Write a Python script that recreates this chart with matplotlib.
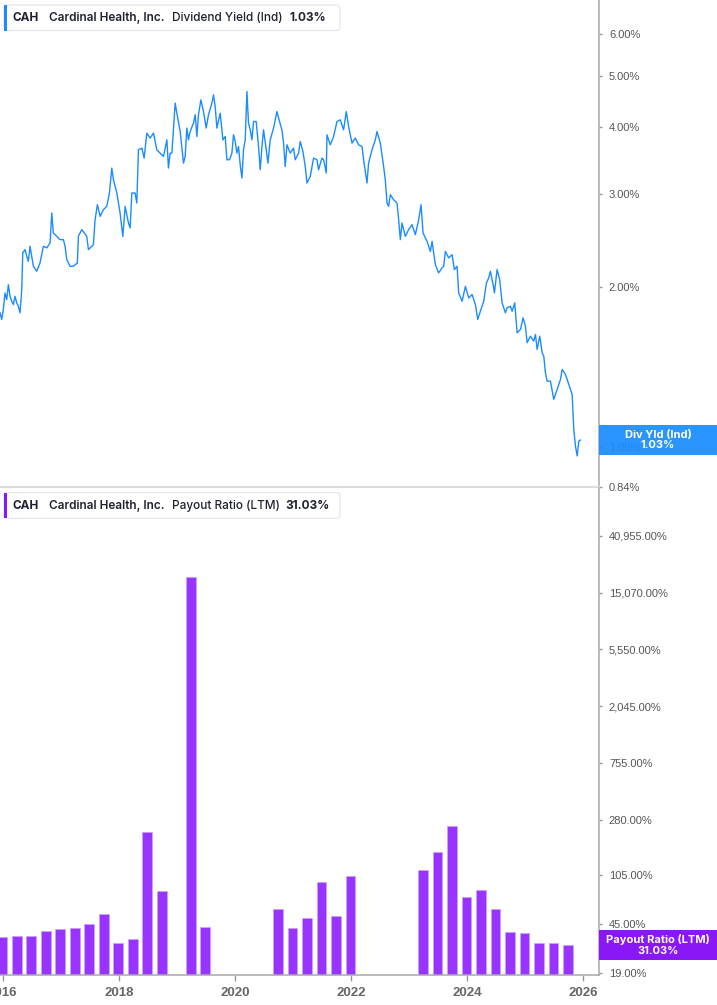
import numpy as np
import matplotlib
matplotlib.use("Agg")
import matplotlib.pyplot as plt
from matplotlib.patches import FancyBboxPatch, Rectangle
from matplotlib.transforms import IdentityTransform
from matplotlib.ticker import NullLocator, FixedLocator, FixedFormatter

# ---------------- data ----------------
div_dates = [
    2015.953, 2015.983, 2016.010, 2016.040, 2016.069, 2016.097, 2016.126, 2016.155, 2016.183, 2016.212,
    2016.241, 2016.269, 2016.298, 2016.328, 2016.345, 2016.384, 2016.414, 2016.441, 2016.471, 2016.500,
    2016.528, 2016.586, 2016.643, 2016.700, 2016.759, 2016.816, 2016.845, 2016.872, 2016.931, 2016.988,
    2017.045, 2017.074, 2017.103, 2017.160, 2017.217, 2017.286, 2017.303, 2017.362, 2017.448, 2017.476,
    2017.562, 2017.591, 2017.631, 2017.678, 2017.734, 2017.793, 2017.838, 2017.879, 2017.907, 2017.966,
    2018.022, 2018.069, 2018.109, 2018.166, 2018.195, 2018.224, 2018.281, 2018.310, 2018.338, 2018.397,
    2018.436, 2018.483, 2018.540, 2018.597, 2018.655, 2018.712, 2018.769, 2018.828, 2018.855, 2018.884,
    2018.914, 2018.941, 2018.971, 2019.000, 2019.057, 2019.114, 2019.143, 2019.172, 2019.200, 2019.229,
    2019.286, 2019.316, 2019.345, 2019.372, 2019.414, 2019.459, 2019.505, 2019.545, 2019.603, 2019.631,
    2019.660, 2019.690, 2019.747, 2019.793, 2019.833, 2019.862, 2019.907, 2019.948, 2019.976, 2020.005,
    2020.034, 2020.062, 2020.091, 2020.121, 2020.148, 2020.178, 2020.207, 2020.234, 2020.264, 2020.293,
    2020.321, 2020.367, 2020.407, 2020.436, 2020.466, 2020.493, 2020.540, 2020.569, 2020.609, 2020.666,
    2020.724, 2020.769, 2020.810, 2020.838, 2020.867, 2020.897, 2020.953, 2021.010, 2021.040, 2021.097,
    2021.126, 2021.172, 2021.212, 2021.241, 2021.298, 2021.355, 2021.414, 2021.441, 2021.500, 2021.528,
    2021.574, 2021.586, 2021.643, 2021.700, 2021.759, 2021.816, 2021.872, 2021.919, 2021.959, 2022.017,
    2022.074, 2022.131, 2022.190, 2022.217, 2022.276, 2022.303, 2022.362, 2022.419, 2022.448, 2022.505,
    2022.562, 2022.591, 2022.621, 2022.648, 2022.678, 2022.734, 2022.793, 2022.821, 2022.850, 2022.879,
    2022.936, 2022.993, 2023.052, 2023.109, 2023.166, 2023.207, 2023.241, 2023.310, 2023.367, 2023.397,
    2023.453, 2023.510, 2023.569, 2023.597, 2023.626, 2023.683, 2023.741, 2023.781, 2023.828, 2023.855,
    2023.914, 2023.971, 2024.028, 2024.086, 2024.143, 2024.183, 2024.229, 2024.286, 2024.333, 2024.372,
    2024.402, 2024.448, 2024.471, 2024.517, 2024.562, 2024.603, 2024.660, 2024.690, 2024.747, 2024.776,
    2024.821, 2024.862, 2024.919, 2024.966, 2025.005, 2025.034, 2025.091, 2025.148, 2025.178, 2025.207,
    2025.252, 2025.293, 2025.321, 2025.350, 2025.379, 2025.436, 2025.493, 2025.552, 2025.609, 2025.638,
    2025.695, 2025.752, 2025.810, 2025.838, 2025.867, 2025.897, 2025.924, 2025.953,
]
div_yield = [
    1.789, 1.738, 1.814, 1.950, 1.894, 2.021, 1.921, 1.881, 1.854, 1.921,
    1.868, 1.840, 1.789, 1.978, 2.320, 2.353, 2.286, 2.236, 2.387, 2.286,
    2.189, 2.142, 2.221, 2.387, 2.371, 2.423, 2.758, 2.529, 2.492, 2.457,
    2.457, 2.387, 2.254, 2.189, 2.189, 2.221, 2.492, 2.566, 2.492, 2.353,
    2.404, 2.679, 2.859, 2.718, 2.798, 2.839, 3.008, 3.352, 3.186, 3.008,
    2.758, 2.492, 2.839, 2.641, 2.585, 3.008, 3.008, 2.880, 3.628, 3.655,
    3.500, 3.901, 3.817, 3.901, 3.628, 3.576, 3.524, 3.789, 3.352, 3.576,
    3.576, 3.957, 4.443, 4.254, 3.928, 3.425, 3.524, 3.987, 3.789, 3.928,
    4.074, 4.223, 3.844, 4.223, 4.507, 4.283, 3.987, 4.223, 4.443, 4.605,
    4.377, 3.987, 4.254, 3.789, 3.844, 3.475, 3.475, 3.576, 3.873, 3.762,
    3.576, 3.681, 3.400, 3.210, 3.628, 3.789, 4.672, 4.074, 3.957, 3.789,
    4.102, 4.102, 3.681, 3.327, 3.681, 3.957, 3.628, 3.425, 3.789, 3.987,
    4.283, 4.102, 3.957, 3.735, 3.375, 3.708, 3.576, 3.655, 3.475, 3.576,
    3.762, 3.601, 3.375, 3.141, 3.232, 3.500, 3.475, 3.327, 3.500, 3.475,
    3.281, 3.873, 3.708, 3.844, 4.102, 4.132, 3.957, 4.283, 4.014, 3.735,
    3.817, 3.708, 3.681, 3.475, 3.141, 3.425, 3.628, 3.789, 3.928, 3.735,
    3.375, 3.186, 2.880, 2.839, 2.986, 2.922, 2.880, 2.679, 2.457, 2.641,
    2.492, 2.566, 2.622, 2.511, 2.679, 2.859, 2.529, 2.439, 2.335, 2.439,
    2.205, 2.127, 2.174, 2.189, 2.335, 2.270, 2.302, 2.158, 2.189, 1.950,
    1.881, 2.006, 1.908, 1.936, 1.854, 1.738, 1.801, 1.881, 2.036, 2.081,
    2.142, 2.021, 1.950, 2.158, 2.066, 1.868, 1.789, 1.828, 1.840, 1.801,
    1.868, 1.640, 1.664, 1.750, 1.688, 1.571, 1.616, 1.582, 1.628, 1.526,
    1.616, 1.504, 1.482, 1.379, 1.330, 1.330, 1.229, 1.283, 1.340, 1.399,
    1.369, 1.311, 1.255, 1.079, 1.003, 0.961, 1.025, 1.030,
]

payout_dates = [
    2015.99, 2016.24, 2016.49, 2016.74, 2016.99, 2017.24, 2017.49, 2017.74,
    2017.99, 2018.24, 2018.49, 2018.74, 2019.24, 2019.49,
    2020.74, 2020.99, 2021.24, 2021.49, 2021.74, 2021.99,
    2023.24, 2023.49, 2023.74, 2023.99, 2024.24, 2024.49, 2024.74, 2024.99,
    2025.24, 2025.49, 2025.74,
]
payout_ratio = [
    35.5, 36.2, 36.2, 39.7, 40.9, 41.9, 44.9, 53.2,
    32.0, 34.3, 226.9, 79.7, 19720.0, 42.4,
    58.7, 41.6, 49.9, 94.3, 51.1, 104.3,
    115.9, 159.7, 250.8, 72.5, 81.5, 58.7, 39.0, 38.1,
    32.0, 31.8, 31.03,
]

yield_ticks = [0.84, 1.0, 2.0, 3.0, 4.0, 5.0, 6.0]
yield_tick_labels = ["0.84%", "1.00%", "2.00%", "3.00%", "4.00%", "5.00%", "6.00%"]
payout_ticks = [19, 45, 105, 280, 755, 2045, 5550, 15070, 40955]
payout_tick_labels = ["19.00%", "45.00%", "105.00%", "280.00%", "755.00%",
                      "2,045.00%", "5,550.00%", "15,070.00%", "40,955.00%"]
year_ticks = [2016, 2018, 2020, 2022, 2024, 2026]
year_tick_labels = ["2016", "2018", "2020", "2022", "2024", "2026"]

# ---------------- layout ----------------
W, H = 717, 1005
fig = plt.figure(figsize=(W / 100, H / 100), dpi=100)
fig.patch.set_facecolor("white")

AX_R = 598.5
ax1 = fig.add_axes([0, 1 - 487 / H, AX_R / W, 487 / H])
ax2 = fig.add_axes([0, 1 - 974.5 / H, AX_R / W, (974.5 - 488) / H])

XLIM = (2015.953, 2026.264)
TICK_FONT = dict(family=["Liberation Sans", "DejaVu Sans"], size=8)

LINE_BLUE = "#1a8cff"
BAR_PURPLE = "#9933ff"

# ---- top panel: dividend yield ----
ax1.plot(div_dates, div_yield, color=LINE_BLUE, lw=1.0, solid_joinstyle="round")
ax1.set_yscale("log")
ax1.set_ylim(0.84, 6.95)
ax1.set_xlim(*XLIM)
ax1.yaxis.tick_right()
ax1.yaxis.set_major_locator(FixedLocator(yield_ticks))
ax1.yaxis.set_major_formatter(FixedFormatter(yield_tick_labels))
ax1.yaxis.set_minor_locator(NullLocator())
ax1.set_xticks([])
for s in ("top", "left"):
    ax1.spines[s].set_visible(False)
ax1.spines["right"].set_color("#a8a8a8")
ax1.spines["right"].set_linewidth(1.1)
ax1.spines["bottom"].set_color("#dcdcdc")
ax1.spines["bottom"].set_linewidth(1.6)
ax1.tick_params(axis="y", which="major", length=2.5, width=1, color="#999999",
                pad=5, labelcolor="#555555")
for lab in ax1.get_yticklabels():
    lab.set_fontfamily(TICK_FONT["family"])
    lab.set_fontsize(TICK_FONT["size"])

# ---- bottom panel: payout ratio ----
ax2.bar(payout_dates, [v - 1 for v in payout_ratio], bottom=1, width=0.167,
        color=BAR_PURPLE, edgecolor="#c9a2ff", linewidth=0.6)
ax2.set_yscale("log")
ax2.set_ylim(18.45, 94500)
ax2.set_xlim(*XLIM)
ax2.yaxis.tick_right()
ax2.yaxis.set_major_locator(FixedLocator(payout_ticks))
ax2.yaxis.set_major_formatter(FixedFormatter(payout_tick_labels))
ax2.yaxis.set_minor_locator(NullLocator())
ax2.set_xticks(year_ticks)
ax2.set_xticklabels(year_tick_labels)
for s in ("top", "left"):
    ax2.spines[s].set_visible(False)
ax2.spines["right"].set_color("#a8a8a8")
ax2.spines["right"].set_linewidth(1.1)
ax2.spines["bottom"].set_color("#a8a8a8")
ax2.spines["bottom"].set_linewidth(1.1)
ax2.tick_params(axis="y", which="major", length=2.5, width=1, color="#999999",
                pad=5, labelcolor="#555555")
ax2.tick_params(axis="x", which="major", length=4, width=1, color="#999999",
                pad=5, labelcolor="#666666")
for lab in ax2.get_yticklabels():
    lab.set_fontfamily(TICK_FONT["family"])
    lab.set_fontsize(TICK_FONT["size"])
for lab in ax2.get_xticklabels():
    lab.set_fontfamily(["Liberation Sans", "DejaVu Sans"])
    lab.set_fontsize(9.5)
    lab.set_fontweight("bold")

# ---------------- annotations (pixel coordinates) ----------------
ident = IdentityTransform()


def box(x0, y0, x1, y1, **kw):
    p = Rectangle((x0, H - y1), x1 - x0, y1 - y0, transform=ident, **kw)
    fig.add_artist(p)
    return p


def rbox(x0, y0, x1, y1, **kw):
    p = FancyBboxPatch((x0, H - y1), x1 - x0, y1 - y0,
                       boxstyle="round,pad=0,rounding_size=3", transform=ident, **kw)
    fig.add_artist(p)
    return p


def txt(x, y, s, **kw):
    fig.text(x / W, 1 - y / H, s, **kw)


HDR_FONT = ["Inter", "DejaVu Sans"]
HDR_COL = "#1e2230"


def header(y0, y1, accent, metric, value, value_x):
    rbox(4, y0, 340, y1, facecolor="white", edgecolor="#e4e4e4", linewidth=0.8, zorder=5)
    box(4, y0, 6.5, y1, facecolor=accent, edgecolor="none", zorder=6)
    yc = (y0 + y1) / 2
    kw = dict(va="center", ha="left", family=HDR_FONT, fontsize=8.5, color=HDR_COL, zorder=7)
    txt(13, yc, "CAH", fontweight="bold", **kw)
    txt(49, yc, "Cardinal Health, Inc.", fontweight="semibold", **kw)
    txt(172, yc, metric, fontweight="medium", **kw)
    txt(value_x, yc, value, fontweight="bold", **kw)


header(5, 30.5, LINE_BLUE, "Dividend Yield (Ind)", "1.03%", 290)
header(492.7, 518.3, "#8a17f5", "Payout Ratio (LTM)", "31.03%", 285)

# right-hand value labels
box(AX_R, 425, W, 454.5, facecolor=LINE_BLUE, edgecolor="none", alpha=0.93, zorder=5)
lkw = dict(va="center", ha="center", family=HDR_FONT, fontsize=8, color="white",
           fontweight="bold", zorder=7)
txt(658, 434.5, "Div Yld (Ind)", **lkw)
txt(658, 445.5, "1.03%", **lkw)

box(AX_R, 930, W, 959.5, facecolor="#8a17f5", edgecolor="none", zorder=5)
txt(658, 939.5, "Payout Ratio (LTM)", **lkw)
txt(658, 950.5, "31.03%", **lkw)

fig.savefig("out.png", dpi=100)
